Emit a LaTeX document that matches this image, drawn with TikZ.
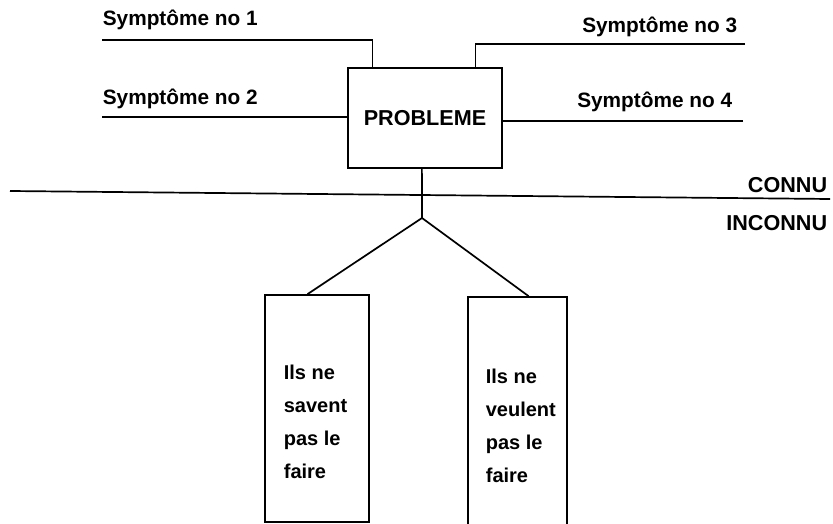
\documentclass[tikz,border=0pt]{standalone}
\usepackage{fontspec}
\setmainfont{Liberation Sans}
\usetikzlibrary{calc}
\begin{document}
\begin{tikzpicture}[x=1pt,y=-1pt, line width=1.7pt,
  lbl/.style={font=\bfseries\fontsize{20.8}{24}\selectfont, inner sep=0pt},
  big/.style={font=\bfseries\fontsize{21.6}{25}\selectfont, inner sep=0pt},
  boxtxt/.style={font=\bfseries\fontsize{20}{33}\selectfont, align=left, inner sep=0pt},
  frame/.style={draw, rectangle, inner sep=0pt}]
\clip (0,0) rectangle (833,524);
% main box
\node[frame, big, minimum width=154pt, minimum height=100pt] (prob) at (425,118) {PROBLEME};
% symptoms
\node[lbl, anchor=base west] (s1) at (102,26) {Symptôme no 1};
\node[lbl, anchor=base west] (s2) at (102,105) {Symptôme no 2};
\node[lbl, anchor=base east] (s3) at (738,33) {Symptôme no 3};
\node[lbl, anchor=base east] (s4) at (733,108) {Symptôme no 4};
\coordinate (c1) at (102,40);
\coordinate (c2) at (102,117);
\coordinate (c3) at (745,44);
\coordinate (c4) at (743,121);
\draw (c1) -| ($(prob.north west)!0.162!(prob.north east)$);
\draw (c3) -| ($(prob.north west)!0.825!(prob.north east)$);
\draw (c2) -- (c2 -| prob.west);
\draw (c4) -- (c4 -| prob.east);
% divider
\coordinate (d1) at (10,191);
\coordinate (d2) at (830,199);
\draw (d1) -- (d2);
\node[big, anchor=base east] (connu) at (828,193) {CONNU};
\node[big, anchor=base east] (inconnu) at (828,230) {INCONNU};
% tree
\coordinate (apex) at (422,218);
\draw ($(prob.south west)!0.48!(prob.south east)$) -- (apex);
\node[frame, minimum width=104pt, minimum height=227pt] (lbox) at (317,408.5) {};
\node[frame, minimum width=99pt, minimum height=233pt] (rbox) at (517.5,413.5) {};
\draw (apex) -- ($(lbox.north west)!0.41!(lbox.north east)$);
\draw (apex) -- ($(rbox.north west)!0.61!(rbox.north east)$);
\node[boxtxt, anchor=base west] (ltxt) at (283,478) {Ils ne\\savent\\pas le\\faire};
\node[boxtxt, anchor=base west] (rtxt) at (485,482) {Ils ne\\veulent\\pas le\\faire};
\end{tikzpicture}
\end{document}
